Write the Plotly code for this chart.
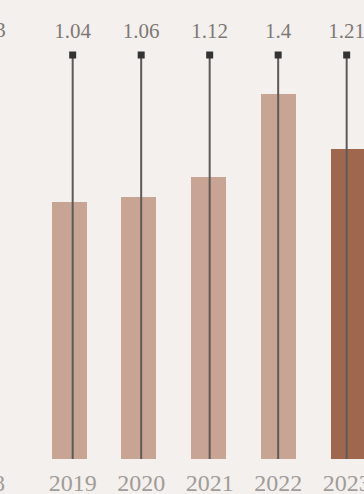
import plotly.graph_objects as go

years = ["2019", "2020", "2021", "2022", "2023"]
bar_values = [1.03, 1.05, 1.13, 1.46, 1.24]
ratio_labels = ["1.04", "1.06", "1.12", "1.4", "1.21"]
stem_top = [1.616, 1.616, 1.616, 1.616, 1.616]
bar_colors = ["#c8a494", "#c8a494", "#c8a494", "#c8a494", "#a0674f"]

BG = "#f4f0ed"
FONT = "Liberation Serif"
TOP_COLOR = "#7d7976"
BOT_COLOR = "#a09c99"

fig = go.Figure()

fig.add_trace(go.Bar(
    x=years, y=bar_values, marker=dict(color=bar_colors, line=dict(width=0)),
    width=0.502, hoverinfo="skip", showlegend=False, xaxis="x", yaxis="y",
))

# stems (on their own slightly different category scale)
sx, sy = [], []
for yr, t in zip(years, stem_top):
    sx += [yr, yr, None]
    sy += [0, t, None]
fig.add_trace(go.Scatter(
    x=sx, y=sy, mode="lines", line=dict(color="#5e5a58", width=2),
    hoverinfo="skip", showlegend=False, xaxis="x2", yaxis="y",
))

# value labels (invisible spacer marker sets the text offset)
fig.add_trace(go.Scatter(
    x=years, y=stem_top, mode="markers+text", text=ratio_labels,
    textposition="top center",
    textfont=dict(family=FONT, size=21, color=TOP_COLOR),
    marker=dict(size=17, color="rgba(0,0,0,0)"),
    hoverinfo="skip", showlegend=False, cliponaxis=False, xaxis="x2", yaxis="y",
))

fig.add_trace(go.Scatter(
    x=years, y=stem_top, mode="markers",
    marker=dict(symbol="square", size=7, color="#333333"),
    hoverinfo="skip", showlegend=False, cliponaxis=False, xaxis="x2", yaxis="y",
))

# partially visible neighbouring labels at the left edge
fig.add_annotation(xref="paper", yref="paper", x=0, y=1, xanchor="right", yanchor="middle",
                   xshift=8, yshift=-30, text="0.93", showarrow=False,
                   font=dict(family=FONT, size=21, color=TOP_COLOR))
fig.add_annotation(xref="paper", yref="paper", x=0, y=0, xanchor="right", yanchor="middle",
                   xshift=7, yshift=-24, text="2018", showarrow=False,
                   font=dict(family=FONT, size=24, color=BOT_COLOR))

fig.update_layout(
    width=364, height=494, margin=dict(l=0, r=0, t=0, b=35),
    paper_bgcolor=BG, plot_bgcolor=BG, bargap=0,
    xaxis=dict(type="category", range=[-0.993, 4.229], showgrid=False, zeroline=False,
               showline=False, showticklabels=False, ticks="", automargin=False),
    xaxis2=dict(type="category", range=[-1.061, 4.253], overlaying="x", showgrid=False,
                zeroline=False, showline=False, ticks="", ticklabelstandoff=7,
                side="bottom", anchor="y",
                tickfont=dict(family=FONT, size=24, color=BOT_COLOR), automargin=False),
    yaxis=dict(range=[0, 1.836], visible=False, showgrid=False, zeroline=False, automargin=False),
)

fig.write_html("out.html")
